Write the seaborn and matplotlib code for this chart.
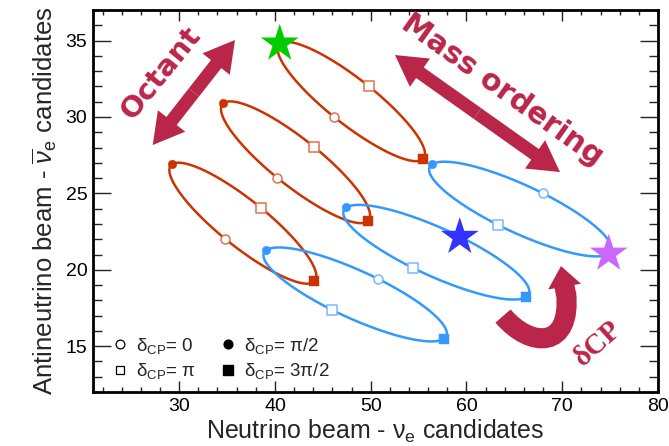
import numpy as np
import pandas as pd
import seaborn as sns
import matplotlib
matplotlib.use("Agg")
import matplotlib.pyplot as plt
from matplotlib.patches import FancyArrowPatch, ArrowStyle, PathPatch
from matplotlib.path import Path
from matplotlib.ticker import MultipleLocator
from matplotlib.lines import Line2D

# Expected event counts at delta_CP = 0, pi/2, pi, 3pi/2
# (neutrino beam nu_e candidates, antineutrino beam anti-nu_e candidates)
io_upper_nu = [46.15, 40.5, 49.8, 55.45]
io_upper_anu = [30.0, 34.8, 32.0, 27.25]
io_max_nu = [40.25, 34.6, 44.05, 49.7]
io_max_anu = [26.0, 30.9, 28.05, 23.2]
io_lower_nu = [34.8, 29.2, 38.5, 44.1]
io_lower_anu = [22.0, 26.9, 24.05, 19.25]

no_upper_nu = [68.0, 56.4, 63.25, 74.85]
no_upper_anu = [25.0, 26.9, 22.95, 21.05]
no_max_nu = [59.3, 47.45, 54.4, 66.25]
no_max_anu = [22.15, 24.1, 20.1, 18.25]
no_lower_nu = [50.75, 39.1, 46.0, 57.65]
no_lower_anu = [19.4, 21.3, 17.35, 15.5]

dcp_labels = ["0", "π/2", "π", "3π/2"]
x_ticks = [30, 40, 50, 60, 70, 80]
y_ticks = [15, 20, 25, 30, 35]

ORANGE = "#cc3300"
ORANGE_LIGHT = "#e07050"
BLUE = "#3399ff"
BLUE_LIGHT = "#7ab8ff"
CRIMSON = "#ba2649"

sns.set_theme(style="ticks")
plt.rcParams["font.family"] = ["Liberation Sans", "DejaVu Sans"]
plt.rcParams["mathtext.fontset"] = "custom"
plt.rcParams["mathtext.rm"] = "Liberation Sans"
plt.rcParams["mathtext.it"] = "Liberation Sans:italic"

fig = plt.figure(figsize=(6.69, 4.46), dpi=100)
ax = fig.add_axes([0.139, 0.121, 0.8446, 0.8565])


def ellipse_frame(nu, anu, n=241):
    """N(delta) = N0 + A cos(delta) + B sin(delta) through the four CP points."""
    nu = np.asarray(nu, float)
    anu = np.asarray(anu, float)
    d = np.linspace(0.0, 2 * np.pi, n)
    x = nu.mean() + 0.5 * (nu[0] - nu[2]) * np.cos(d) + 0.5 * (nu[1] - nu[3]) * np.sin(d)
    y = anu.mean() + 0.5 * (anu[0] - anu[2]) * np.cos(d) + 0.5 * (anu[1] - anu[3]) * np.sin(d)
    return pd.DataFrame({"nu": x, "anu": y})


curves = [
    (io_upper_nu, io_upper_anu, ORANGE, ORANGE_LIGHT),
    (io_max_nu, io_max_anu, ORANGE, ORANGE_LIGHT),
    (io_lower_nu, io_lower_anu, ORANGE, ORANGE_LIGHT),
    (no_upper_nu, no_upper_anu, BLUE, BLUE_LIGHT),
    (no_max_nu, no_max_anu, BLUE, BLUE_LIGHT),
    (no_lower_nu, no_lower_anu, BLUE, BLUE_LIGHT),
]

# true-value stars: (curve index, delta index, colour)
stars = [(0, 1, "#00cc00"), (4, 0, "#3333ff"), (3, 3, "#cc66ff")]
star_slots = {(c, k) for c, k, _ in stars}

for ci, (nu, anu, col, light) in enumerate(curves):
    sns.lineplot(data=ellipse_frame(nu, anu), x="nu", y="anu", sort=False,
                 estimator=None, color=col, lw=1.8, ax=ax, zorder=2)
    for k in range(4):
        if (ci, k) in star_slots:
            continue
        if k == 0:
            sns.scatterplot(x=[nu[k]], y=[anu[k]], marker="o", s=42, facecolor="white",
                            edgecolor=light, linewidth=1.1, ax=ax, zorder=3)
        elif k == 2:
            sns.scatterplot(x=[nu[k]], y=[anu[k]], marker="s", s=44, facecolor="white",
                            edgecolor=light, linewidth=1.1, ax=ax, zorder=3)
        elif k == 1:
            sns.scatterplot(x=[nu[k]], y=[anu[k]], marker="o", s=38, color=col,
                            edgecolor=col, linewidth=0.3, ax=ax, zorder=3)
        else:
            sns.scatterplot(x=[nu[k]], y=[anu[k]], marker="s", s=52, color=col,
                            edgecolor=col, linewidth=0.3, ax=ax, zorder=3)

for ci, k, col in stars:
    nu, anu = curves[ci][0], curves[ci][1]
    sns.scatterplot(x=[nu[k]], y=[anu[k]], marker="*", s=820, color=col,
                    edgecolor="none", linewidth=0, ax=ax, zorder=5)

# axes, ticks, labels
ax.set_xlim(21, 80)
ax.set_ylim(12, 37)
ax.set_xticks(x_ticks)
ax.set_yticks(y_ticks)
ax.xaxis.set_minor_locator(MultipleLocator(2))
ax.yaxis.set_minor_locator(MultipleLocator(1))
ax.tick_params(which="both", direction="in", top=True, right=True, colors="#222222",
               labelcolor="black", labelsize=14, width=1.0, pad=4)
ax.tick_params(axis="x", which="major", length=8)
ax.tick_params(axis="x", which="minor", length=3.5)
ax.tick_params(axis="y", which="major", length=13)
ax.tick_params(axis="y", which="minor", length=6.5)
for sp in ax.spines.values():
    sp.set_linewidth(2.0)
    sp.set_color("black")
ax.set_xlabel(r"Neutrino beam - ν$_{\rm e}$ candidates", fontsize=18, labelpad=2)
ax.set_ylabel(r"Antineutrino beam - $\overline{\nu}_{\rm e}$ candidates", fontsize=18.5,
              labelpad=5)

# legend for the delta_CP markers
handles = [
    Line2D([], [], ls="none", marker="o", ms=6.3, mfc="white", mec="black", mew=0.9),
    Line2D([], [], ls="none", marker="s", ms=6.3, mfc="white", mec="black", mew=0.9),
    Line2D([], [], ls="none", marker="o", ms=6.3, mfc="black", mec="black"),
    Line2D([], [], ls="none", marker="s", ms=6.8, mfc="black", mec="black"),
]
labels = [r"δ$_{\rm CP}$= " + dcp_labels[i] for i in (0, 2, 1, 3)]
ax.legend(handles, labels, ncol=2, loc="lower left", bbox_to_anchor=(0.035, 0.028),
          frameon=False, fontsize=13.5, handlelength=0.8, handletextpad=0.45,
          columnspacing=1.3, labelspacing=0.3, borderpad=0, borderaxespad=0)

# annotation arrows and words


def double_arrow(p, q, tail=9.4, hw=25, hl=22):
    mid = ((p[0] + q[0]) / 2, (p[1] + q[1]) / 2)
    style = ArrowStyle("simple", head_length=hl, head_width=hw, tail_width=tail)
    for end in (p, q):
        ax.add_patch(FancyArrowPatch(mid, end, transform=ax.transAxes, arrowstyle=style,
                                     mutation_scale=1, color=CRIMSON, lw=0,
                                     shrinkA=0, shrinkB=0, zorder=4))


double_arrow((0.2513, 0.9215), (0.1057, 0.6466))
double_arrow((0.5345, 0.8822), (0.8265, 0.5759))

ax.text(0.120, 0.836, "Octant", transform=ax.transAxes, rotation=51, fontsize=21,
        fontweight="bold", family="DejaVu Sans", color=CRIMSON, ha="center", va="center",
        rotation_mode="anchor")
ax.text(0.7239, 0.7906, "Mass ordering", transform=ax.transAxes, rotation=-35.5,
        fontsize=21.5, fontweight="bold", family="DejaVu Sans", color=CRIMSON,
        ha="center", va="center", rotation_mode="anchor")

# hooked delta_CP arrow: thick curved band plus a short head
hook = Path([(0.7257, 0.1990), (0.7735, 0.1152), (0.8478, 0.1099), (0.8372, 0.2618)],
            [Path.MOVETO, Path.CURVE4, Path.CURVE4, Path.CURVE4])
ax.add_patch(PathPatch(hook, transform=ax.transAxes, facecolor="none", edgecolor=CRIMSON,
                       lw=14.5, capstyle="butt", zorder=4))
ax.add_patch(FancyArrowPatch((0.8372, 0.2540), (0.8283, 0.3298), transform=ax.transAxes,
                             arrowstyle=ArrowStyle("simple", head_length=15, head_width=24,
                                                   tail_width=14.5),
                             mutation_scale=1, color=CRIMSON, lw=0, shrinkA=0, shrinkB=0,
                             zorder=4))
ax.text(0.893, 0.128, "δCP", transform=ax.transAxes, rotation=42, fontsize=21,
        family=["Liberation Serif", "DejaVu Serif"], fontweight="bold", color=CRIMSON,
        ha="center", va="center", rotation_mode="anchor")

fig.savefig("out.png", dpi=100)
